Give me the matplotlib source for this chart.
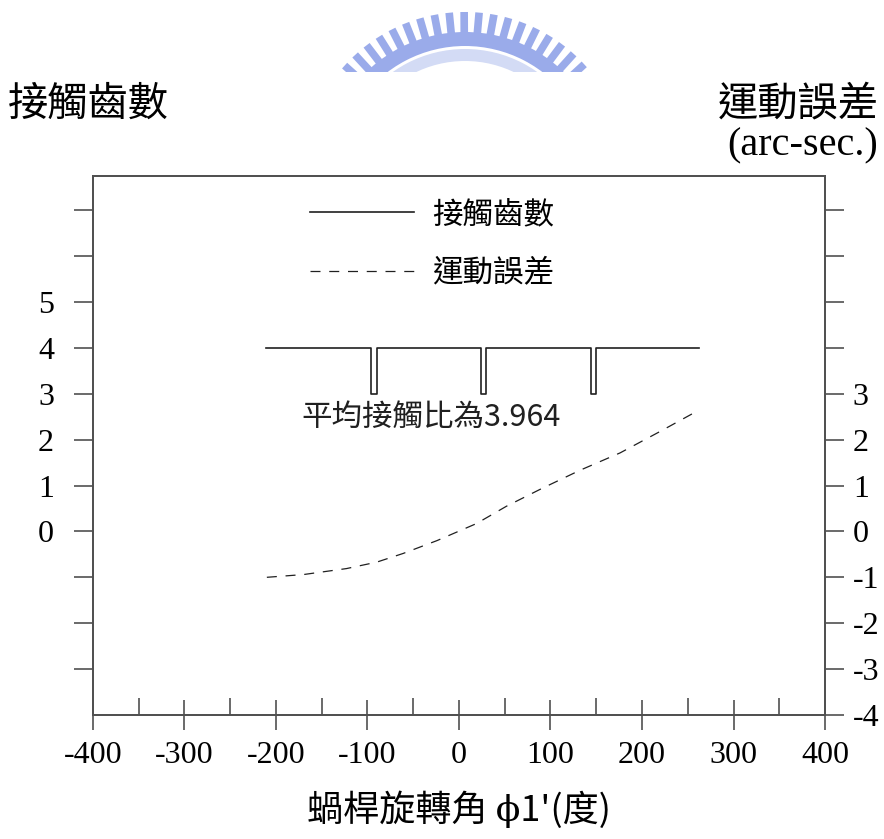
import numpy as np
import matplotlib
matplotlib.use("Agg")
import matplotlib.pyplot as plt
from matplotlib.patches import Wedge

plt.rcParams['axes.unicode_minus'] = False

# data
contact_x = [-211, -96, -90, 24, 30, 144, 150, 262]
contact_y = [4, 3, 4, 3, 4, 3, 4, 4]

error_x = [-210, -170, -123, -90, -61, -24, 19, 52, 90, 132, 176, 220, 262]
error_y = [-1.0, -0.94, -0.81, -0.67, -0.48, -0.2, 0.17, 0.55, 0.93, 1.33, 1.71, 2.18, 2.64]

x_ticks = [-400, -300, -200, -100, 0, 100, 200, 300, 400]
left_ticks = [-3, -2, -1, 0, 1, 2, 3, 4, 5, 6, 7]
left_labels = ['', '', '', '0', '1', '2', '3', '4', '5', '', '']
right_ticks = [-4, -3, -2, -1, 0, 1, 2, 3, 4, 5, 6, 7]
right_labels = ['-4', '-3', '-2', '-1', '0', '1', '2', '3', '', '', '', '']

cjk = ['Noto Sans CJK TC', 'DejaVu Sans']
serif = ['Liberation Serif', 'DejaVu Serif']
W, H = 884, 839
edge = '#505050'

fig = plt.figure(figsize=(W / 100, H / 100), dpi=100)
ax = fig.add_axes([93 / W, 1 - 715 / H, 732 / W, 539.3 / H])

ax.plot(contact_x, contact_y, drawstyle='steps-post', color='#202020', lw=1.2,
        label='接觸齒數')
ax.plot(error_x, error_y, color='#202020', lw=0.9, linestyle=(0, (8, 7)),
        label='運動誤差')

ax.set_xlim(-400, 400)
ax.set_ylim(-4, 7.75)
for s in ax.spines.values():
    s.set_color(edge)
    s.set_linewidth(1.3)

ax.set_xticks(x_ticks)
ax.set_xticklabels([str(v) for v in x_ticks], family=serif, fontsize=23)
ax.set_xticks(np.array(x_ticks[:-1]) + 50, minor=True)
ax.tick_params(axis='x', which='major', direction='inout', length=22, width=1.2,
               color=edge, pad=8)
ax.tick_params(axis='x', which='minor', direction='in', length=12, width=1.2,
               color=edge)

ax.set_yticks(left_ticks)
ax.set_yticklabels(left_labels, family=serif, fontsize=23)
ax.tick_params(axis='y', direction='out', length=14, width=1.2, color=edge, pad=14)

ax2 = ax.twinx()
ax2.set_ylim(-4, 7.75)
ax2.set_yticks(right_ticks)
ax2.set_yticklabels(right_labels, family=serif, fontsize=23)
ax2.tick_params(axis='y', direction='out', length=14, width=1.2, color=edge, pad=6)
for s in ax2.spines.values():
    s.set_color(edge)
    s.set_linewidth(1.3)

leg = ax.legend(loc='upper left', bbox_to_anchor=(0.296, 0.957), frameon=False,
                prop={'family': cjk, 'size': 22}, handlelength=3.4,
                handletextpad=0.6, labelspacing=0.9, borderpad=0,
                borderaxespad=0)

ax.text(-172, 2.48, '平均接觸比為3.964', family=cjk, fontsize=22, va='center',
        color='#202020')

ax.set_xlabel("蝸桿旋轉角 ϕ1'(度)", family=['Noto Sans CJK TC', 'DejaVu Serif'],
              fontsize=26, labelpad=15)

fig.text(8 / W, 1 - 104 / H, '接觸齒數', family=cjk, fontsize=29, va='center',
         ha='left')
fig.text(879 / W, 1 - 104 / H, '運動誤差', family=cjk, fontsize=29, va='center',
         ha='right')
fig.text(878 / W, 1 - 146 / H, '(arc-sec.)', family=serif, fontsize=29,
         va='center', ha='right')

# faint logo at the top
logo = fig.add_axes([330 / W, 1 - 72 / H, 270 / W, 64 / H])
logo.set_xlim(330, 600)
logo.set_ylim(72, 8)
logo.axis('off')
blue = '#9aabea'
logo.add_patch(Wedge((465, 174), 142, 215, 325, width=14, color=blue, lw=0))
logo.add_patch(Wedge((465, 174), 125, 215, 325, width=12, color='#d3dbf5', lw=0))
for a in np.deg2rad(np.arange(222, 320, 5.3)):
    logo.plot([465 + 141 * np.cos(a), 465 + 162 * np.cos(a)],
              [174 + 141 * np.sin(a), 174 + 162 * np.sin(a)],
              color=blue, lw=5.5, solid_capstyle='butt')

fig.savefig('out.png', dpi=100)
